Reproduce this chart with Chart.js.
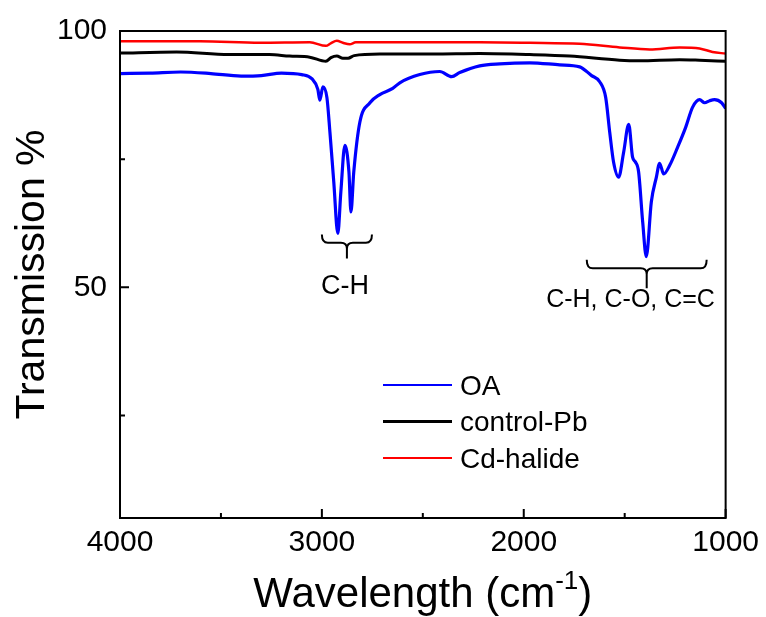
<!DOCTYPE html>
<html>
<head>
<meta charset="utf-8">
<script src="https://cdn.jsdelivr.net/npm/chart.js@4"></script>
<style>
  body { margin: 0; background: #fff; }
</style>
</head>
<body>
<canvas id="myChart" width="766" height="617"></canvas>
<script>
// wavenumbers (cm-1) and transmission (%)
const oaWn = [4000, 3850, 3700, 3550, 3400, 3300, 3200, 3100, 3050, 3020, 3010, 2995, 2975, 2960, 2941, 2921, 2906, 2886, 2866, 2856, 2842, 2812, 2762, 2713, 2649, 2614, 2515, 2416, 2357, 2317, 2218, 2119, 1970, 1822, 1723, 1664, 1624, 1594, 1574, 1555, 1530, 1505, 1480, 1461, 1446, 1431, 1411, 1393, 1368, 1343, 1327, 1307, 1277, 1238, 1198, 1164, 1129, 1104, 1079, 1055, 1020, 1000];
const oaT = [91.7, 91.8, 92.0, 91.7, 91.2, 91.3, 91.8, 91.5, 90.7, 88.6, 86.5, 89.1, 87.0, 80.2, 70.5, 60.5, 68.6, 77.7, 72.5, 64.7, 72.5, 82.2, 86.0, 87.6, 88.8, 89.9, 91.5, 92.1, 91.1, 91.9, 93.2, 93.6, 93.8, 93.4, 93.0, 91.3, 90.1, 87.0, 80.2, 74.4, 71.5, 76.4, 81.8, 75.4, 74.4, 72.5, 62.8, 56.0, 66.7, 71.5, 74.2, 72.1, 73.8, 77.3, 81.2, 85.1, 86.6, 86.0, 86.4, 86.6, 86.0, 84.9];

const pbWn = [4000, 3720, 3460, 3260, 3160, 3060, 2980, 2955, 2926, 2896, 2870, 2840, 2713, 2450, 2218, 1970, 1772, 1525, 1426, 1228, 1129, 1000];
const pbT = [95.7, 95.9, 95.4, 95.4, 95.1, 94.9, 94.1, 94.8, 95.1, 94.7, 94.7, 95.2, 95.5, 95.5, 95.6, 95.4, 95.1, 94.3, 94.2, 94.4, 94.3, 94.1];

const cdWn = [4000, 3604, 3307, 3060, 2980, 2956, 2926, 2896, 2862, 2832, 2713, 2218, 1970, 1723, 1525, 1376, 1228, 1129, 1065, 1000];
const cdT = [98.0, 98.0, 97.7, 97.8, 97.1, 97.6, 98.1, 97.7, 97.4, 97.8, 97.8, 97.8, 97.7, 97.5, 96.8, 96.4, 96.8, 96.6, 95.9, 95.6];

const seriesNames = ['OA', 'control-Pb', 'Cd-halide'];
const seriesColors = ['#0000ff', '#000000', '#ff0000'];

const xMajorTicks = [4000, 3000, 2000, 1000];
const xMinorTicks = [3500, 2500, 1500];
const yMajorTicks = [50, 100];
const yMinorTicks = [25, 75];

// bracket labels (data coordinates)
const bracketFrom = [3000, 1688];
const bracketTo = [2752, 1094];
const bracketMid = [2876, 1391];
const bracketTop = [60.3, 55.4];
const bracketBar = [58.7, 53.7];
const bracketStem = [55.6, 49.8];
const bracketLabels = ['C-H', 'C-H, C-O, C=C'];
const labelX = [2886, 1471];
const labelY = [50.2, 47.6];

const FONT = '"Liberation Sans", Arial, sans-serif';

function pairs(xs, ys) {
    return xs.map((x, i) => ({ x: x, y: ys[i] }));
}

const extras = {
    id: 'extras',
    afterDatasetsDraw(chart) {
        const ctx = chart.ctx;
        const a = chart.chartArea;
        const xs = chart.scales.x;
        const ys = chart.scales.y;
        ctx.save();

        // frame
        ctx.strokeStyle = '#000';
        ctx.lineWidth = 2;
        ctx.strokeRect(a.left, a.top, a.right - a.left, a.bottom - a.top);

        // inward tick marks
        ctx.lineWidth = 2;
        ctx.beginPath();
        xMajorTicks.forEach(v => { const p = xs.getPixelForValue(v); ctx.moveTo(p, a.bottom); ctx.lineTo(p, a.bottom - 9); });
        xMinorTicks.forEach(v => { const p = xs.getPixelForValue(v); ctx.moveTo(p, a.bottom); ctx.lineTo(p, a.bottom - 5); });
        yMajorTicks.forEach(v => { const p = ys.getPixelForValue(v); ctx.moveTo(a.left, p); ctx.lineTo(a.left + 9, p); });
        yMinorTicks.forEach(v => { const p = ys.getPixelForValue(v); ctx.moveTo(a.left, p); ctx.lineTo(a.left + 5, p); });
        ctx.stroke();

        // curly brackets and their labels
        ctx.lineWidth = 2;
        for (let i = 0; i < bracketLabels.length; i++) {
            const x1 = xs.getPixelForValue(bracketFrom[i]);
            const x2 = xs.getPixelForValue(bracketTo[i]);
            const xc = xs.getPixelForValue(bracketMid[i]);
            const yt = ys.getPixelForValue(bracketTop[i]);
            const yb = ys.getPixelForValue(bracketBar[i]);
            const ye = ys.getPixelForValue(bracketStem[i]);
            const r = Math.min(6, (yb - yt));
            ctx.beginPath();
            ctx.moveTo(x1, yt);
            ctx.quadraticCurveTo(x1, yb, x1 + r, yb);
            ctx.lineTo(xc - r, yb);
            ctx.quadraticCurveTo(xc, yb, xc, yb + r);
            ctx.moveTo(x2, yt);
            ctx.quadraticCurveTo(x2, yb, x2 - r, yb);
            ctx.lineTo(xc + r, yb);
            ctx.quadraticCurveTo(xc, yb, xc, yb + r);
            ctx.lineTo(xc, ye);
            ctx.stroke();

            ctx.fillStyle = '#000';
            ctx.font = (i === 0 ? '27px ' : '25px ') + FONT;
            ctx.textAlign = 'center';
            ctx.textBaseline = 'middle';
            ctx.fillText(bracketLabels[i], xs.getPixelForValue(labelX[i]), ys.getPixelForValue(labelY[i]));
        }

        // legend
        ctx.font = '28px ' + FONT;
        ctx.textAlign = 'left';
        ctx.textBaseline = 'middle';
        chart.data.datasets.forEach((ds, i) => {
            const y = a.top + 354 + i * 36.5;
            ctx.strokeStyle = ds.borderColor;
            ctx.lineWidth = i === 1 ? 3 : 2.2;
            ctx.beginPath();
            ctx.moveTo(a.left + 263, y);
            ctx.lineTo(a.left + 332, y);
            ctx.stroke();
            ctx.fillStyle = '#000';
            ctx.fillText(ds.label, a.left + 340, y + 2);
        });

        // x axis title with superscript
        const main = 'Wavelength (cm';
        const sup = '-1';
        const tail = ')';
        ctx.fillStyle = '#000';
        ctx.textBaseline = 'alphabetic';
        ctx.font = '42px ' + FONT;
        const w1 = ctx.measureText(main).width;
        const w3 = ctx.measureText(tail).width;
        ctx.font = '26px ' + FONT;
        const w2 = ctx.measureText(sup).width;
        const total = w1 + w2 + w3;
        const x0 = (a.left + a.right) / 2 - total / 2;
        const base = 607;
        ctx.font = '42px ' + FONT;
        ctx.fillText(main, x0, base);
        ctx.font = '26px ' + FONT;
        ctx.fillText(sup, x0 + w1, base - 18);
        ctx.font = '42px ' + FONT;
        ctx.fillText(tail, x0 + w1 + w2, base);

        ctx.restore();
    }
};

const ctx = document.getElementById('myChart').getContext('2d');
new Chart(ctx, {
    type: 'line',
    data: {
        datasets: [
            { label: seriesNames[0], data: pairs(oaWn, oaT), borderColor: seriesColors[0], borderWidth: 3.2 },
            { label: seriesNames[1], data: pairs(pbWn, pbT), borderColor: seriesColors[1], borderWidth: 3 },
            { label: seriesNames[2], data: pairs(cdWn, cdT), borderColor: seriesColors[2], borderWidth: 2.5 }
        ]
    },
    options: {
        responsive: false,
        animation: false,
        elements: {
            point: { radius: 0 },
            line: { cubicInterpolationMode: 'monotone', fill: false }
        },
        layout: { padding: { top: 28, right: 39, bottom: 0, left: 0 } },
        plugins: {
            legend: { display: false },
            tooltip: { enabled: false }
        },
        scales: {
            x: {
                type: 'linear',
                reverse: true,
                min: 1000,
                max: 4000,
                grid: { display: false, drawTicks: false },
                border: { display: true, color: '#000', width: 2 },
                afterBuildTicks: s => { s.ticks = xMajorTicks.map(v => ({ value: v })); },
                afterFit: s => { s.height = 99; },
                ticks: {
                    color: '#000',
                    padding: 7,
                    maxRotation: 0,
                    font: { family: FONT, size: 30 },
                    callback: v => String(v)
                }
            },
            y: {
                type: 'linear',
                min: 5,
                max: 100,
                grid: { display: false, drawTicks: false },
                border: { display: true, color: '#000', width: 2 },
                afterBuildTicks: s => { s.ticks = yMajorTicks.map(v => ({ value: v })); },
                afterFit: s => { s.width = 120; },
                ticks: {
                    color: '#000',
                    padding: 13,
                    font: { family: FONT, size: 30 },
                    callback: v => String(v)
                },
                title: {
                    display: true,
                    text: 'Transmission %',
                    color: '#000',
                    font: { family: FONT, size: 41 },
                    padding: { top: 8, bottom: 0 }
                }
            }
        }
    },
    plugins: [extras]
});
</script>
</body>
</html>
